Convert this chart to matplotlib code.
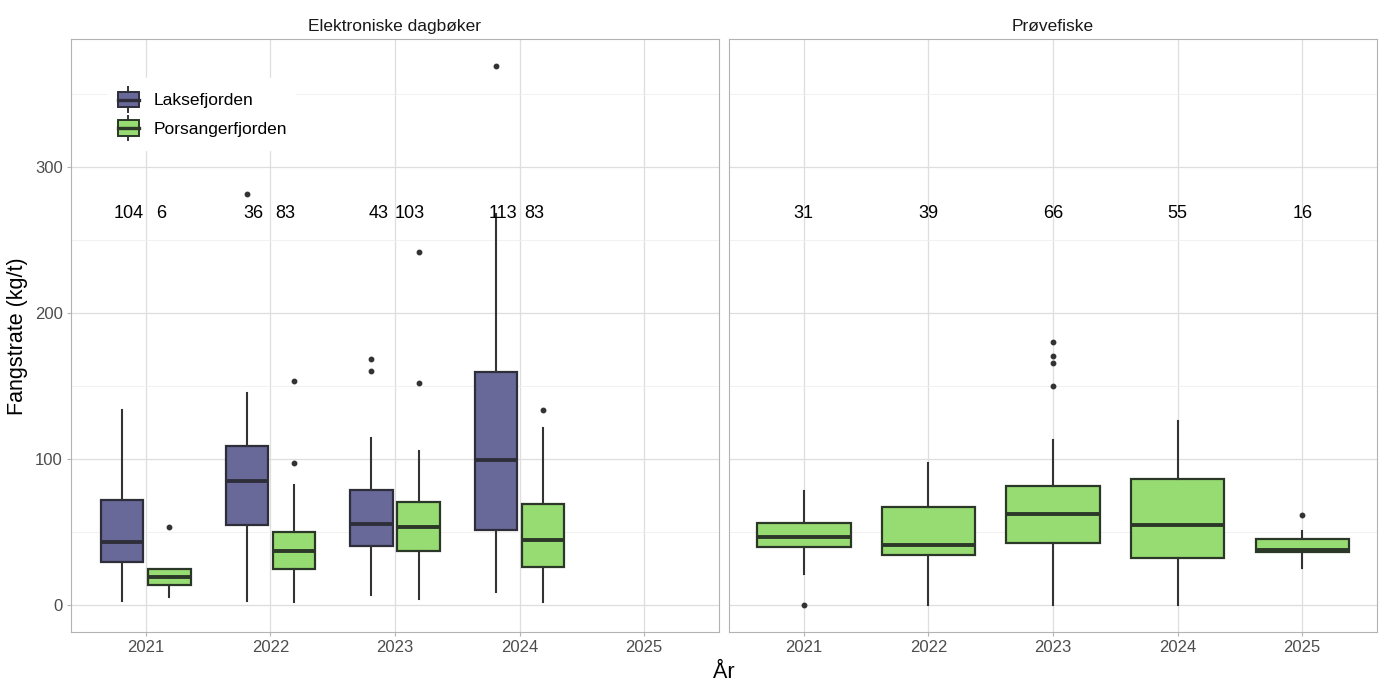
import matplotlib
matplotlib.use("Agg")
import matplotlib.pyplot as plt
from matplotlib.patches import Patch
from matplotlib.legend_handler import HandlerBase
from matplotlib.lines import Line2D
from matplotlib.patches import Rectangle

plt.rcParams['font.family'] = ['Liberation Sans', 'DejaVu Sans']

years = ['2021', '2022', '2023', '2024', '2025']
panels = ['Elektroniske dagbøker', 'Prøvefiske']
fjords = ['Laksefjorden', 'Porsangerfjorden']
fill_colors = {'Laksefjorden': '#686899', 'Porsangerfjorden': '#97DB73'}
edge_colors = {'Laksefjorden': '#2E2E3A', 'Porsangerfjorden': '#2B3828'}

# Elektroniske dagbøker, Laksefjorden (2021-2024)
lakse_years = ['2021', '2022', '2023', '2024']
lakse_whislo = [3.0, 3.0, 6.6, 9.1]
lakse_q1 = [29.8, 54.9, 40.5, 51.5]
lakse_med = [43.3, 85.2, 55.6, 99.5]
lakse_q3 = [72.0, 108.9, 78.8, 159.5]
lakse_whishi = [133.5, 145.3, 114.6, 268.0]
lakse_fliers = [[], [281.5], [168.1, 160.1], [369.0]]
lakse_n = [104, 36, 43, 113]

# Elektroniske dagbøker, Porsangerfjorden (2021-2024)
pors_years = ['2021', '2022', '2023', '2024']
pors_whislo = [5.7, 2.3, 4.1, 2.3]
pors_q1 = [13.7, 24.6, 37.1, 26.2]
pors_med = [19.1, 36.9, 53.5, 44.4]
pors_q3 = [24.6, 49.7, 70.4, 69.0]
pors_whishi = [24.8, 82.0, 105.5, 121.0]
pors_fliers = [[53.3], [153.1, 97.0], [151.9, 241.9], [133.5]]
pors_n = [6, 83, 103, 83]

# Prøvefiske, Porsangerfjorden (2021-2025)
prove_years = ['2021', '2022', '2023', '2024', '2025']
prove_whislo = [21.0, 0.0, 0.0, 0.0, 25.1]
prove_q1 = [39.6, 34.4, 42.4, 31.9, 36.0]
prove_med = [46.5, 41.2, 62.0, 54.9, 37.8]
prove_q3 = [56.0, 67.2, 81.3, 86.3, 44.9]
prove_whishi = [78.1, 97.0, 113.2, 126.2, 51.0]
prove_fliers = [[0.0], [], [180.2, 170.2, 165.4, 149.9], [], [61.5]]
prove_n = [31, 39, 66, 55, 16]

label_y = 268
ylim = (-18.45, 387.45)

W, H = 1386, 693
fig = plt.figure(figsize=(W / 100, H / 100), dpi=100)
ax1 = fig.add_axes([71 / W, 1 - 632 / H, (719 - 71) / W, (632 - 39) / H])
ax2 = fig.add_axes([729 / W, 1 - 632 / H, (1377 - 729) / W, (632 - 39) / H], sharey=ax1)

def style_axes(ax, show_y):
    ax.set_xlim(-0.6, len(years) - 0.4)
    ax.set_ylim(*ylim)
    ax.set_xticks(range(len(years)))
    ax.set_xticklabels(years)
    ax.set_yticks([0, 100, 200, 300])
    ax.set_yticks([50, 150, 250, 350], minor=True)
    ax.grid(True, which='major', axis='both', color='#DEDEDE', lw=0.9, zorder=0)
    ax.grid(True, which='minor', axis='y', color='#EFEFEF', lw=0.6, zorder=0)
    ax.set_axisbelow(True)
    for s in ax.spines.values():
        s.set_color('#B3B3B3')
        s.set_linewidth(0.8)
    ax.tick_params(axis='both', which='major', colors='#B3B3B3', labelcolor='#4D4D4D',
                   labelsize=12, length=3, width=0.8, pad=3)
    ax.tick_params(axis='y', which='minor', length=0)
    if not show_y:
        ax.tick_params(axis='y', labelleft=False, length=0)

def draw_boxes(ax, yrs, wlo, q1, med, q3, whi, fl, fjord, offset, width):
    stats = []
    pos = []
    for i, y in enumerate(yrs):
        stats.append(dict(whislo=wlo[i], q1=q1[i], med=med[i], q3=q3[i],
                          whishi=whi[i], fliers=fl[i]))
        pos.append(years.index(y) + offset)
    ec = edge_colors[fjord]
    ax.bxp(stats, positions=pos, widths=width, patch_artist=True, showcaps=False,
           boxprops=dict(facecolor=fill_colors[fjord], edgecolor=ec, lw=1.6),
           medianprops=dict(color=ec, lw=2.8, solid_capstyle='butt'),
           whiskerprops=dict(color='#333333', lw=1.5),
           flierprops=dict(marker='o', markersize=3.2, markerfacecolor='#333333',
                           markeredgecolor='#333333'),
           manage_ticks=False, zorder=3)

style_axes(ax1, True)
style_axes(ax2, False)

draw_boxes(ax1, lakse_years, lakse_whislo, lakse_q1, lakse_med, lakse_q3, lakse_whishi,
           lakse_fliers, 'Laksefjorden', -0.19, 0.34)
draw_boxes(ax1, pors_years, pors_whislo, pors_q1, pors_med, pors_q3, pors_whishi,
           pors_fliers, 'Porsangerfjorden', 0.19, 0.34)
draw_boxes(ax2, prove_years, prove_whislo, prove_q1, prove_med, prove_q3, prove_whishi,
           prove_fliers, 'Porsangerfjorden', 0.0, 0.75)

for i, y in enumerate(lakse_years):
    ax1.text(years.index(y) - 0.135, label_y, str(lakse_n[i]), ha='center', va='center',
             fontsize=13, color='black', zorder=5)
for i, y in enumerate(pors_years):
    ax1.text(years.index(y) + 0.12, label_y, str(pors_n[i]), ha='center', va='center',
             fontsize=13, color='black', zorder=5)
for i, y in enumerate(prove_years):
    ax2.text(years.index(y), label_y, str(prove_n[i]), ha='center', va='center',
             fontsize=13, color='black', zorder=5)

ax1.set_title(panels[0], fontsize=12.5, color='#1A1A1A', pad=6)
ax2.set_title(panels[1], fontsize=12.5, color='#1A1A1A', pad=6)

class BoxKey(HandlerBase):
    def __init__(self, fc, ec):
        super().__init__()
        self.fc, self.ec = fc, ec
    def create_artists(self, legend, orig_handle, xdescent, ydescent, width, height, fontsize, trans):
        x0 = -xdescent
        y0 = -ydescent
        cx = x0 + width / 2
        lo, hi = 0.2, 0.8
        r = Rectangle((x0 + 1, y0 + height * lo), width - 2, height * (hi - lo),
                      facecolor=self.fc, edgecolor=self.ec, lw=1.4, transform=trans)
        m = Line2D([x0 + 1, x0 + width - 1], [y0 + height / 2] * 2,
                   color=self.ec, lw=2.4, transform=trans)
        w1 = Line2D([cx, cx], [y0 + height * 0.03, y0 + height * lo], color='#333333', lw=1.4, transform=trans)
        w2 = Line2D([cx, cx], [y0 + height * hi, y0 + height * 0.97], color='#333333', lw=1.4, transform=trans)
        return [w1, w2, r, m]

h1 = Patch(label=fjords[0])
h2 = Patch(label=fjords[1])
leg = ax1.legend([h1, h2], fjords, loc='upper left', bbox_to_anchor=(37 / 648, 1 - 39 / 593),
                 handler_map={h1: BoxKey(fill_colors[fjords[0]], edge_colors[fjords[0]]),
                              h2: BoxKey(fill_colors[fjords[1]], edge_colors[fjords[1]])},
                 prop={'size': 12.5}, frameon=True, fancybox=False, framealpha=1, edgecolor='white',
                 handlelength=1.35, handleheight=1.9, handletextpad=0.75, labelspacing=0.17,
                 borderpad=0.5, borderaxespad=0)
leg.set_zorder(6)

fig.text(18 / W, 1 - 336 / H, 'Fangstrate (kg/t)', rotation=90, ha='center', va='center',
         fontsize=15.5, color='black')
fig.text(724 / W, 1 - 673 / H, 'År', ha='center', va='center', fontsize=15.5, color='black')

fig.savefig('out.png', dpi=100, facecolor='white')
